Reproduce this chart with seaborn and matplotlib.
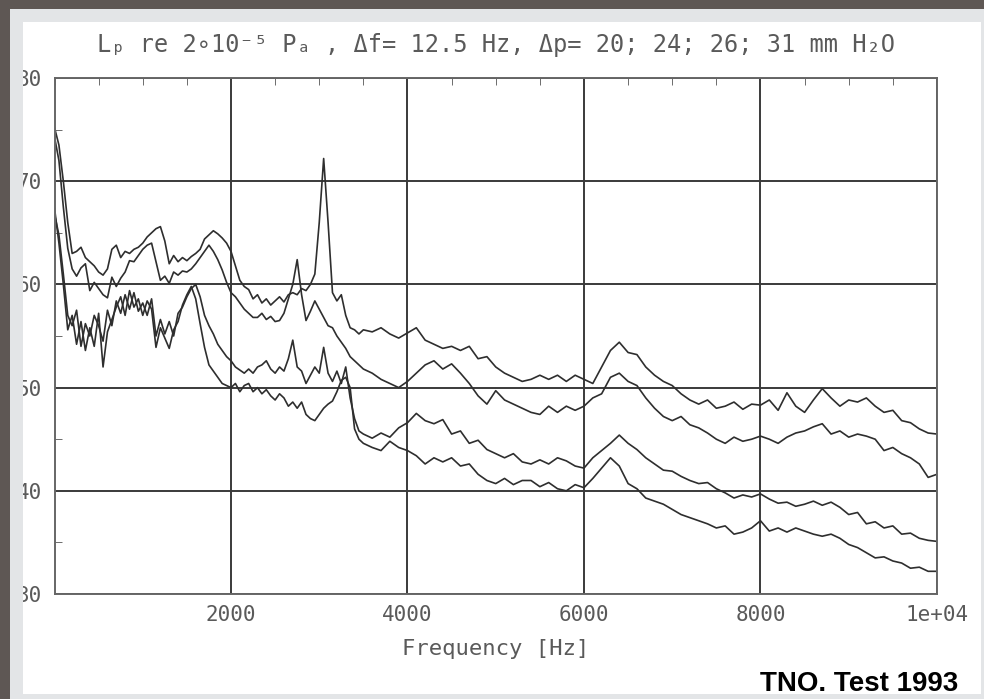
import numpy as np
import pandas as pd
import matplotlib
matplotlib.use("Agg")
import matplotlib.pyplot as plt
from matplotlib.patches import Rectangle
from matplotlib.ticker import MultipleLocator, FixedLocator
import seaborn as sns

# frequency grid: 50 Hz steps up to 3450 Hz, then 100 Hz steps
freq = np.r_[np.arange(0, 3500, 50), np.arange(3500, 10001, 100)]

# sound pressure level curves (dB)
lp_20 = [75.2, 73.5, 70.0, 66.0, 63.0, 63.2, 63.6, 62.6, 62.2, 61.8,
         61.2, 60.9, 61.5, 63.4, 63.8, 62.6, 63.2, 63.0, 63.4, 63.6,
         64.0, 64.6, 65.0, 65.4, 65.6, 64.2, 62.0, 62.8, 62.2, 62.6,
         62.3, 62.7, 63.0, 63.4, 64.4, 64.8, 65.2, 64.9, 64.5, 64.0,
         63.2, 61.8, 60.4, 59.8, 59.5, 58.6, 59.0, 58.2, 58.6, 58.0,
         58.4, 58.8, 58.3, 59.0, 59.2, 59.0, 59.6, 59.4, 60.0, 61.0,
         66.0, 72.2, 66.0, 59.2, 58.4, 59.0, 57.0, 55.8, 55.6, 55.2,
         55.6, 55.4, 55.8, 55.2, 54.8, 55.3, 55.8, 54.6, 54.2, 53.8,
         54.0, 53.6, 54.0, 52.8, 53.0, 52.0, 51.4, 51.0, 50.6, 50.8,
         51.2, 50.8, 51.2, 50.6, 51.2, 50.8, 50.4, 52.0, 53.6, 54.4,
         53.4, 53.2, 52.0, 51.2, 50.6, 50.2, 49.4, 48.8, 48.4, 48.8,
         48.0, 48.2, 48.6, 47.9, 48.4, 48.3, 48.8, 47.8, 49.5, 48.2,
         47.6, 48.8, 49.9, 49.0, 48.2, 48.8, 48.6, 49.0, 48.2, 47.6,
         47.8, 46.8, 46.6, 46.0, 45.6, 45.5]

lp_24 = [74.3, 72.0, 67.5, 63.5, 61.5, 60.8, 61.6, 62.0, 59.4, 60.2,
         59.6, 59.0, 58.7, 60.7, 59.8, 60.6, 61.2, 62.3, 62.2, 62.8,
         63.4, 63.8, 64.0, 62.2, 60.4, 60.8, 60.1, 61.2, 60.9, 61.3,
         61.2, 61.5, 62.0, 62.6, 63.2, 63.8, 63.2, 62.4, 61.4, 60.2,
         59.2, 58.8, 58.2, 57.6, 57.2, 56.8, 56.8, 57.2, 56.6, 56.9,
         56.4, 56.5, 57.2, 58.6, 60.0, 62.4, 59.0, 56.5, 57.4, 58.4,
         57.6, 56.8, 56.0, 55.8, 55.0, 54.4, 53.8, 53.0, 52.6, 52.2,
         51.8, 51.4, 50.8, 50.4, 50.0, 50.6, 51.4, 52.2, 52.6, 51.8,
         52.3, 51.4, 50.4, 49.2, 48.4, 49.7, 48.8, 48.4, 48.0, 47.6,
         47.4, 48.2, 47.6, 48.2, 47.8, 48.2, 49.0, 49.4, 51.0, 51.4,
         50.6, 50.2, 49.0, 48.0, 47.2, 46.8, 47.2, 46.4, 46.1, 45.6,
         45.0, 44.6, 45.2, 44.8, 45.0, 45.3, 45.0, 44.6, 45.2, 45.6,
         45.8, 46.2, 46.5, 45.5, 45.8, 45.2, 45.5, 45.3, 45.0, 43.9,
         44.2, 43.6, 43.2, 42.6, 41.3, 41.6]

lp_26 = [66.8, 64.8, 61.0, 57.0, 56.0, 57.5, 54.0, 56.2, 55.0, 57.0,
         56.0, 54.5, 57.5, 56.0, 58.4, 57.2, 59.0, 57.6, 59.2, 57.4,
         58.2, 57.0, 58.6, 55.0, 56.6, 55.2, 56.4, 55.0, 57.2, 57.8,
         58.8, 59.6, 60.0, 58.8, 57.0, 56.0, 55.2, 54.2, 53.6, 53.0,
         52.6, 52.0, 51.7, 51.4, 51.8, 51.4, 52.0, 52.2, 52.6, 51.8,
         51.4, 52.0, 51.6, 52.8, 54.6, 52.0, 51.6, 50.4, 51.2, 52.0,
         51.4, 53.9, 51.4, 50.6, 51.6, 50.4, 52.0, 49.0, 47.0, 45.8,
         45.5, 45.1, 45.6, 45.2, 46.1, 46.6, 47.5, 46.8, 46.5, 46.9,
         45.5, 45.8, 44.6, 44.9, 44.0, 43.6, 43.2, 43.6, 42.8, 42.6,
         43.0, 42.6, 43.2, 42.9, 42.4, 42.2, 43.2, 43.9, 44.6, 45.4,
         44.6, 44.0, 43.2, 42.6, 42.0, 41.9, 41.4, 41.0, 40.7, 40.8,
         40.2, 39.8, 39.3, 39.6, 39.4, 39.7, 39.2, 38.8, 38.9, 38.5,
         38.7, 39.0, 38.6, 38.9, 38.4, 37.7, 37.9, 36.8, 37.0, 36.4,
         36.6, 35.8, 35.9, 35.4, 35.2, 35.1]

lp_31 = [67.4, 64.0, 60.0, 55.6, 57.0, 54.2, 56.4, 53.6, 55.8, 54.0,
         57.2, 52.0, 55.4, 56.6, 57.8, 58.8, 57.0, 59.4, 57.8, 58.6,
         57.0, 58.4, 57.6, 53.9, 55.8, 54.8, 53.8, 55.6, 56.4, 58.0,
         59.0, 59.8, 58.6, 56.2, 53.9, 52.2, 51.6, 51.0, 50.4, 50.2,
         50.0, 50.4, 49.6, 50.2, 50.4, 49.6, 50.0, 49.4, 49.8, 49.2,
         48.8, 49.4, 49.0, 48.2, 48.6, 48.0, 48.6, 47.4, 47.0, 46.8,
         47.4, 48.0, 48.4, 48.7, 49.6, 50.7, 51.0, 50.0, 46.0, 45.0,
         44.6, 44.2, 43.9, 44.8, 44.2, 43.9, 43.4, 42.6, 43.2, 42.8,
         43.2, 42.4, 42.6, 41.6, 41.0, 40.7, 41.2, 40.6, 41.0, 41.0,
         40.4, 40.8, 40.2, 40.0, 40.6, 40.3, 41.2, 42.2, 43.2, 42.4,
         40.7, 40.2, 39.3, 39.0, 38.7, 38.2, 37.7, 37.4, 37.1, 36.8,
         36.4, 36.6, 35.8, 36.0, 36.4, 37.1, 36.1, 36.4, 36.0, 36.4,
         36.1, 35.8, 35.6, 35.8, 35.4, 34.8, 34.5, 34.0, 33.5, 33.6,
         33.2, 33.0, 32.5, 32.6, 32.2, 32.2]

series_names = ["20", "24", "26", "31"]
x_ticks = [2000, 4000, 6000, 8000, 10000]
x_tick_labels = ["2000", "4000", "6000", "8000", "1e+04"]
y_ticks = [30, 40, 50, 60, 70, 80]

df = pd.concat([
    pd.DataFrame({"freq": freq, "lp": vals, "dp": name})
    for name, vals in zip(series_names, [lp_20, lp_24, lp_26, lp_31])
])

sns.set_style("white")
plt.rcParams["font.family"] = ["DejaVu Sans Mono", "DejaVu Sans"]

fig = plt.figure(figsize=(9.84, 6.99), dpi=100)
fig.patch.set_facecolor("#e3e5e7")
ax = fig.add_axes([0.0554, 0.1502, 0.8968, 0.7382])

sns.lineplot(data=df, x="freq", y="lp", units="dp", estimator=None,
             color="#2e2e2e", linewidth=1.2, ax=ax)

ax.set_xlim(0, 10000)
ax.set_ylim(30, 80)
ax.xaxis.set_major_locator(FixedLocator(x_ticks))
ax.set_xticklabels(x_tick_labels)
ax.yaxis.set_major_locator(FixedLocator(y_ticks))
ax.xaxis.set_minor_locator(MultipleLocator(500))
ax.yaxis.set_minor_locator(MultipleLocator(5))
ax.grid(True, which="major", color="#3a3a3a", linewidth=1.4)
ax.tick_params(which="major", length=0, labelsize=15, labelcolor="#5a5a5a")
ax.tick_params(axis="x", which="major", pad=8)
ax.tick_params(axis="y", which="major", pad=9)
ax.tick_params(which="minor", direction="in", length=5, color="#555555",
               top=True, bottom=False, left=True, right=False)
for sp in ax.spines.values():
    sp.set_color("#666666")
    sp.set_linewidth(1.4)
ax.set_xlabel("Frequency [Hz]", fontsize=16, color="#5a5a5a", labelpad=10)
ax.set_ylabel("")

fig.text(0.5038, 0.936, "Lₚ re 2∘10⁻⁵ Pₐ , Δf= 12.5 Hz, Δp= 20; 24; 26; 31 mm H₂O",
         ha="center", va="center", fontsize=17, color="#5a5a5a")
fig.text(0.9736, 0.011, "TNO. Test 1993", ha="right", va="baseline",
         fontsize=20, fontweight="bold", color="black",
         family=["Liberation Sans Narrow", "Liberation Sans", "DejaVu Sans"])

# white sheet and the dark photo edges around it
fig.add_artist(Rectangle((23 / 984, 1 - 694 / 699), 958 / 984, 672 / 699,
                         transform=fig.transFigure, facecolor="white",
                         edgecolor="none", zorder=-5))
fig.add_artist(Rectangle((10 / 984, 0), 13 / 984, 1, transform=fig.transFigure,
                         facecolor="#e3e5e7", edgecolor="none", zorder=10))
fig.add_artist(Rectangle((0, 0), 10 / 984, 1, transform=fig.transFigure,
                         facecolor="#5e5754", edgecolor="none", zorder=11))
fig.add_artist(Rectangle((0, 1 - 9 / 699), 1, 9 / 699, transform=fig.transFigure,
                         facecolor="#5e5754", edgecolor="none", zorder=11))

fig.savefig("out.png", dpi=100, facecolor=fig.get_facecolor())
